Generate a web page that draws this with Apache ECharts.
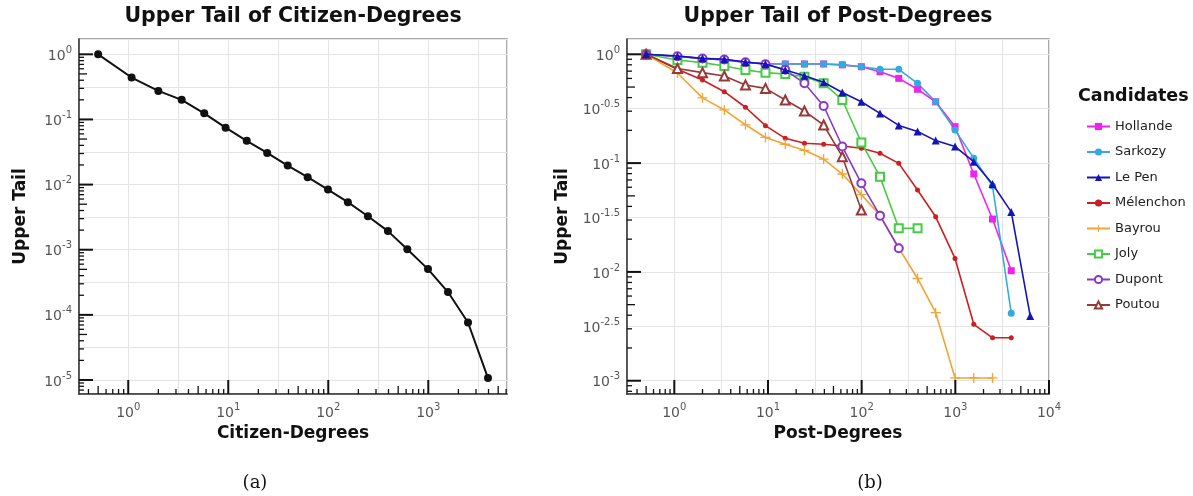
<!DOCTYPE html>
<html><head><meta charset="utf-8">
<script src="https://cdn.jsdelivr.net/npm/echarts@6/dist/echarts.min.js"></script>
<style>html,body{margin:0;padding:0;background:#fff;}#c{width:1193px;height:496px;}</style>
</head><body><div id="c"></div>
<script>
// ---- data ----
const binDegrees = [0.5, 1.08, 2.0, 3.42, 5.75, 9.4, 15.3, 24.5, 39.3, 62.2, 99.3, 157, 249, 395, 617, 993, 1574, 2495, 3954, 6300];
const citizenTail = [1, 0.44, 0.274, 0.20, 0.124, 0.0748, 0.047, 0.0306, 0.0196, 0.013, 0.00838, 0.00537, 0.00327, 0.00193, 0.00102, 0.000504, 0.000224, 0.0000764, 0.0000107];
const candidates = ['Hollande', 'Sarkozy', 'Le Pen', 'Mélenchon', 'Bayrou', 'Joly', 'Dupont', 'Poutou'];
const hollande = [1, 0.955, 0.915, 0.885, 0.845, 0.818, 0.815, 0.815, 0.815, 0.80, 0.769, 0.692, 0.601, 0.477, 0.366, 0.216, 0.0794, 0.0306, 0.01026];
const sarkozy = [1, 0.955, 0.915, 0.885, 0.845, 0.818, 0.815, 0.815, 0.815, 0.80, 0.769, 0.728, 0.728, 0.541, 0.366, 0.201, 0.111, 0.0616, 0.00417];
const lePen = [1, 0.964, 0.918, 0.90, 0.849, 0.815, 0.718, 0.635, 0.553, 0.446, 0.366, 0.286, 0.222, 0.195, 0.161, 0.142, 0.103, 0.0643, 0.0356, 0.00394];
const melenchon = [1, 0.728, 0.581, 0.453, 0.326, 0.221, 0.169, 0.152, 0.149, 0.1435, 0.1368, 0.123, 0.0995, 0.0566, 0.0321, 0.0133, 0.0033, 0.00248, 0.00248];
const bayrou = [1, 0.673, 0.398, 0.308, 0.225, 0.172, 0.149, 0.131, 0.109, 0.0794, 0.0513, 0.0331, 0.0166, 0.0087, 0.00422, 0.00106, 0.00106, 0.00106];
const joly = [1, 0.887, 0.838, 0.78, 0.718, 0.678, 0.659, 0.622, 0.541, 0.38, 0.1545, 0.075, 0.0252, 0.0252];
const dupont = [1, 0.96, 0.915, 0.895, 0.845, 0.81, 0.72, 0.541, 0.335, 0.142, 0.0652, 0.0329, 0.0165];
const poutou = [1, 0.741, 0.678, 0.631, 0.522, 0.486, 0.38, 0.301, 0.224, 0.1146, 0.0371];
const candidateValues = [hollande, sarkozy, lePen, melenchon, bayrou, joly, dupont, poutou];

// ---- styles ----
const colors = ['#ee22ee', '#33aadd', '#1414b8', '#cc1f1f', '#f0a535', '#44cc44', '#8a38c8', '#993838'];
const plusPath = 'path://M-1 -0.13 L1 -0.13 L1 0.13 L-1 0.13 Z M-0.13 -1 L0.13 -1 L0.13 1 L-0.13 1 Z';
const symbols = ['rect', 'circle', 'triangle', 'circle', plusPath, 'emptyRect', 'emptyCircle', 'emptyTriangle'];
const symbolSizes = [7, 7, 8, 5, 10, 8, 8, 9];
const seriesZ = [3, 3, 4, 3, 3, 3, 3, 3];
const FONT = 'DejaVu Sans';

const L = Math.log10;
function pairs(xs, ys) { return ys.map((y, i) => [L(xs[i]), L(y)]); }

const ext = {
  a: {xMin: -0.4924, xMax: 3.787, yMin: -5.215, yMax: 0.235},
  b: {xMin: -0.505, xMax: 4.0, yMin: -3.122, yMax: 0.1405}
};

function fmtDecade(v) {
  const r = Math.round(v);
  if (Math.abs(v - r) > 1e-6) return '';
  return '{b|10}{s|' + r + '}';
}
function fmtHalf(v) {
  const r = Math.round(v * 2) / 2;
  if (Math.abs(v - r) > 1e-6) return '';
  return '{b|10}{s|' + r + '}';
}
const rich = {
  b: {fontSize: 14, fontFamily: FONT, color: '#555', lineHeight: 18, verticalAlign: 'bottom'},
  s: {fontSize: 10, fontFamily: FONT, color: '#555', lineHeight: 10, verticalAlign: 'top'}
};

function tickData(e) {
  const out = [];
  const add = (dir, lo, hi) => {
    for (let k = Math.floor(lo) - 1; k <= Math.ceil(hi); k++) {
      for (let m = 1; m <= 9; m++) {
        const v = k + L(m);
        if (v < lo - 1e-9 || v > hi + 1e-9) continue;
        const len = m === 1 ? 14 : (m === 5 ? 8 : 5);
        out.push([dir, v, len]);
      }
    }
  };
  add(0, e.xMin, e.xMax);
  add(1, e.yMin, e.yMax);
  return out;
}
function tickRenderer(e) {
  return function (params, api) {
    const dir = api.value(0), v = api.value(1), len = api.value(2);
    let p, q;
    if (dir === 0) { p = api.coord([v, e.yMin]); q = [p[0], p[1] - len]; }
    else { p = api.coord([e.xMin, v]); q = [p[0] + len, p[1]]; }
    return {type: 'line', silent: true,
      shape: {x1: p[0], y1: p[1], x2: q[0], y2: q[1]},
      style: {stroke: '#111', lineWidth: len > 10 ? 2 : 1.3}};
  };
}

function xAxis(idx, e, name) {
  return {
    type: 'value', gridIndex: idx, min: e.xMin, max: e.xMax, minInterval: 0.5, maxInterval: 0.5,
    name: name, nameLocation: 'middle', nameGap: 31,
    nameTextStyle: {fontFamily: FONT, fontWeight: 'bold', fontSize: 17, color: '#111'},
    axisLine: {show: true, onZero: false, lineStyle: {color: '#333', width: 1.5}},
    axisTick: {show: false},
    axisLabel: {formatter: fmtDecade, rich: rich, margin: 8, showMinLabel: true, showMaxLabel: true},
    splitLine: {show: true, lineStyle: {color: '#e4e4e4', width: 1}}
  };
}
function yAxis(idx, e, fmt, gap) {
  return {
    type: 'value', gridIndex: idx, min: e.yMin, max: e.yMax, minInterval: 0.5, maxInterval: 0.5,
    name: 'Upper Tail', nameLocation: 'middle', nameGap: gap,
    nameTextStyle: {fontFamily: FONT, fontWeight: 'bold', fontSize: 17, color: '#111'},
    axisLine: {show: true, onZero: false, lineStyle: {color: '#333', width: 1.5}},
    axisTick: {show: false},
    axisLabel: {formatter: fmt, rich: rich, margin: 7},
    splitLine: {show: true, lineStyle: {color: '#e4e4e4', width: 1}}
  };
}

const series = [];
series.push({
  type: 'line', xAxisIndex: 0, yAxisIndex: 0, name: 'Citizens',
  data: pairs(binDegrees, citizenTail),
  symbol: 'circle', symbolSize: 8, color: '#111',
  lineStyle: {width: 2, color: '#111'}, itemStyle: {color: '#111'}, z: 3
});
candidates.forEach((nm, i) => {
  const empty = symbols[i].indexOf('empty') === 0;
  series.push({
    type: 'line', xAxisIndex: 1, yAxisIndex: 1, name: nm,
    data: pairs(binDegrees, candidateValues[i]),
    symbol: symbols[i], symbolSize: symbolSizes[i], color: colors[i],
    lineStyle: {width: 1.6, color: colors[i]},
    itemStyle: empty ? {color: colors[i], borderColor: colors[i], borderWidth: 1.3} : {color: colors[i]},
    z: seriesZ[i]
  });
});
series.push({type: 'custom', xAxisIndex: 0, yAxisIndex: 0, data: tickData(ext.a), renderItem: tickRenderer(ext.a), clip: false, silent: true, z: 6});
series.push({type: 'custom', xAxisIndex: 1, yAxisIndex: 1, data: tickData(ext.b), renderItem: tickRenderer(ext.b), clip: false, silent: true, z: 6});

const chart = echarts.init(document.getElementById('c'), null, {renderer: 'canvas'});
chart.setOption({
  backgroundColor: '#fff',
  animation: false,
  textStyle: {fontFamily: FONT},
  grid: [
    {left: 79, top: 39, width: 428, height: 355, show: true, borderColor: '#8e8e8e', borderWidth: 1.5, containLabel: false},
    {left: 627, top: 39, width: 422, height: 355, show: true, borderColor: '#8e8e8e', borderWidth: 1.5, containLabel: false}
  ],
  xAxis: [xAxis(0, ext.a, 'Citizen-Degrees'), xAxis(1, ext.b, 'Post-Degrees')],
  yAxis: [yAxis(0, ext.a, fmtDecade, 50), yAxis(1, ext.b, fmtHalf, 56)],
  legend: {
    data: candidates, orient: 'vertical', left: 1081, top: 115,
    itemWidth: 23, itemHeight: 9, itemGap: 12.5,
    textStyle: {fontFamily: FONT, fontSize: 13, color: '#222'}
  },
  graphic: [
    {type: 'text', x: 293, y: 17, style: {text: 'Upper Tail of Citizen-Degrees', font: 'bold 20.5px "DejaVu Sans"', fill: '#111', textAlign: 'center', align: 'center', textVerticalAlign: 'middle', verticalAlign: 'middle'}},
    {type: 'text', x: 838, y: 17, style: {text: 'Upper Tail of Post-Degrees', font: 'bold 20.5px "DejaVu Sans"', fill: '#111', textAlign: 'center', align: 'center', textVerticalAlign: 'middle', verticalAlign: 'middle'}},
    {type: 'text', x: 1078, y: 96, style: {text: 'Candidates', font: 'bold 17.5px "DejaVu Sans"', fill: '#111', textAlign: 'left', align: 'left', textVerticalAlign: 'middle', verticalAlign: 'middle'}},
    {type: 'text', x: 255, y: 483, style: {text: '(a)', font: '18px "DejaVu Serif"', fill: '#111', textAlign: 'center', align: 'center', textVerticalAlign: 'middle', verticalAlign: 'middle'}},
    {type: 'text', x: 870, y: 483, style: {text: '(b)', font: '18px "DejaVu Serif"', fill: '#111', textAlign: 'center', align: 'center', textVerticalAlign: 'middle', verticalAlign: 'middle'}}
  ],
  series: series
});
</script></body></html>
